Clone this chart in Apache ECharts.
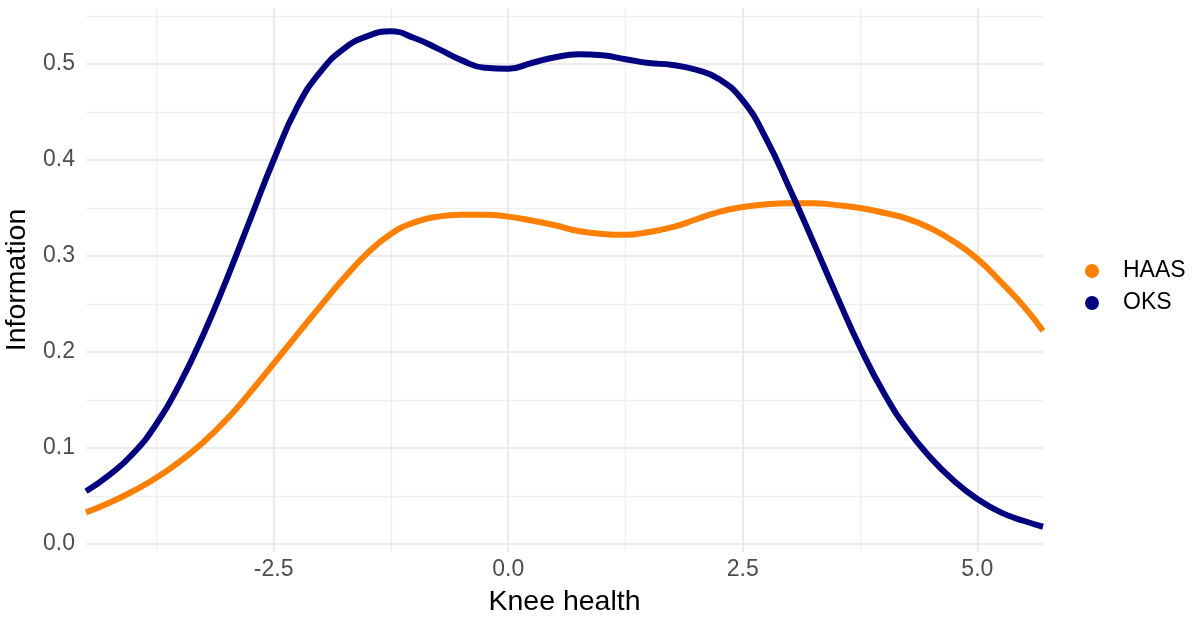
<!DOCTYPE html>
<html>
<head>
<meta charset="utf-8">
<title>Information curves</title>
<script src="https://cdn.jsdelivr.net/npm/echarts@6/dist/echarts.min.js"></script>
<style>
  html, body { margin: 0; padding: 0; background: #ffffff; }
  #chart { width: 1199px; height: 619px; }
</style>
</head>
<body>
<div id="chart"></div>
<script>
// Information curves over knee health (theta)
const thetaX = [-4.5, -4.25, -4.0, -3.75, -3.5, -3.25, -3.0, -2.75, -2.5, -2.25, -2.0, -1.75, -1.5, -1.25, -1.0, -0.75, -0.5, -0.25, 0.0, 0.25, 0.5, 0.75, 1.0, 1.25, 1.5, 1.75, 2.0, 2.25, 2.5, 2.75, 3.0, 3.25, 3.5, 3.75, 4.0, 4.25, 4.5, 4.75, 5.0, 5.25, 5.5, 5.7];

const haasY = [0.033, 0.043, 0.055, 0.069, 0.086, 0.106, 0.130, 0.158, 0.188, 0.218, 0.248, 0.277, 0.303, 0.323, 0.335, 0.341, 0.343, 0.343, 0.341, 0.337, 0.332, 0.326, 0.323, 0.322, 0.325, 0.330, 0.338, 0.346, 0.351, 0.354, 0.355, 0.355, 0.353, 0.350, 0.345, 0.339, 0.329, 0.315, 0.297, 0.273, 0.247, 0.222];

const oksY = [0.055, 0.072, 0.094, 0.125, 0.167, 0.218, 0.276, 0.338, 0.400, 0.455, 0.492, 0.516, 0.529, 0.534, 0.527, 0.516, 0.504, 0.496, 0.495, 0.501, 0.507, 0.510, 0.509, 0.505, 0.501, 0.499, 0.494, 0.484, 0.462, 0.422, 0.370, 0.315, 0.259, 0.205, 0.158, 0.120, 0.090, 0.066, 0.047, 0.033, 0.024, 0.018];

const xTicks = [-2.5, 0.0, 2.5, 5.0];
const xMinorTicks = [-3.75, -1.25, 1.25, 3.75];
const yTicks = [0.0, 0.1, 0.2, 0.3, 0.4, 0.5];
const yMinorTicks = [0.05, 0.15, 0.25, 0.35, 0.45, 0.55];

const seriesNames = ['HAAS', 'OKS'];
const seriesColors = ['#FF7F00', '#000080'];

const FONT = '"Liberation Sans", Arial, Helvetica, sans-serif';

function pairs(xs, ys) {
  return xs.map((x, i) => [x, ys[i]]);
}

const gridMajor = { color: '#EBEBEB', width: 2, type: 'solid' };
const gridMinor = { color: '#EFEFEF', width: 1.4, type: 'solid' };

const gridLines = []
  .concat(yMinorTicks.map(v => ({ yAxis: v, lineStyle: gridMinor })))
  .concat(xMinorTicks.map(v => ({ xAxis: v, lineStyle: gridMinor })))
  .concat(yTicks.map(v => ({ yAxis: v, lineStyle: gridMajor })))
  .concat(xTicks.map(v => ({ xAxis: v, lineStyle: gridMajor })));

const chart = echarts.init(document.getElementById('chart'), null, { renderer: 'canvas' });

chart.setOption({
  animation: false,
  backgroundColor: '#ffffff',
  textStyle: { fontFamily: FONT },
  grid: { left: 86, right: 156, top: 8, bottom: 67, containLabel: false, outerBoundsMode: 'none' },
  xAxis: {
    type: 'value',
    min: -4.5,
    max: 5.7,
    axisLine: { show: false },
    axisTick: { show: false },
    splitLine: { show: false },
    axisLabel: {
      customValues: xTicks,
      formatter: v => v.toFixed(1),
      color: '#4D4D4D',
      fontSize: 23,
      fontFamily: FONT,
      margin: 6
    },
    name: 'Knee health',
    nameLocation: 'middle',
    nameGap: 36,
    nameTextStyle: { color: '#000000', fontSize: 28.5, fontFamily: FONT }
  },
  yAxis: {
    type: 'value',
    min: -0.0083,
    max: 0.5583,
    axisLine: { show: false },
    axisTick: { show: false },
    splitLine: { show: false },
    axisLabel: {
      customValues: yTicks,
      formatter: v => v.toFixed(1),
      color: '#4D4D4D',
      fontSize: 23,
      fontFamily: FONT,
      margin: 11
    },
    name: 'Information',
    nameLocation: 'middle',
    nameGap: 52,
    nameTextStyle: { color: '#000000', fontSize: 28.5, fontFamily: FONT }
  },
  legend: {
    orient: 'vertical',
    left: 1085,
    top: 258,
    padding: 0,
    itemGap: 6,
    itemWidth: 14,
    itemHeight: 14,
    icon: 'circle',
    data: seriesNames,
    textStyle: {
      color: '#000000',
      fontSize: 23,
      lineHeight: 26,
      fontFamily: FONT,
      padding: [0, 0, 0, 19]
    }
  },
  series: [
    {
      name: '__grid',
      type: 'line',
      data: [],
      silent: true,
      z: 1,
      markLine: {
        silent: true,
        z: 1,
        symbol: ['none', 'none'],
        label: { show: false },
        emphasis: { disabled: true },
        animation: false,
        data: gridLines
      }
    },
    {
      name: seriesNames[0],
      type: 'line',
      data: pairs(thetaX, haasY),
      smooth: 0.5,
      showSymbol: false,
      z: 3,
      itemStyle: { color: seriesColors[0] },
      lineStyle: { color: seriesColors[0], width: 6 }
    },
    {
      name: seriesNames[1],
      type: 'line',
      data: pairs(thetaX, oksY),
      smooth: 0.5,
      showSymbol: false,
      z: 4,
      itemStyle: { color: seriesColors[1] },
      lineStyle: { color: seriesColors[1], width: 6 }
    }
  ]
});
</script>
</body>
</html>
